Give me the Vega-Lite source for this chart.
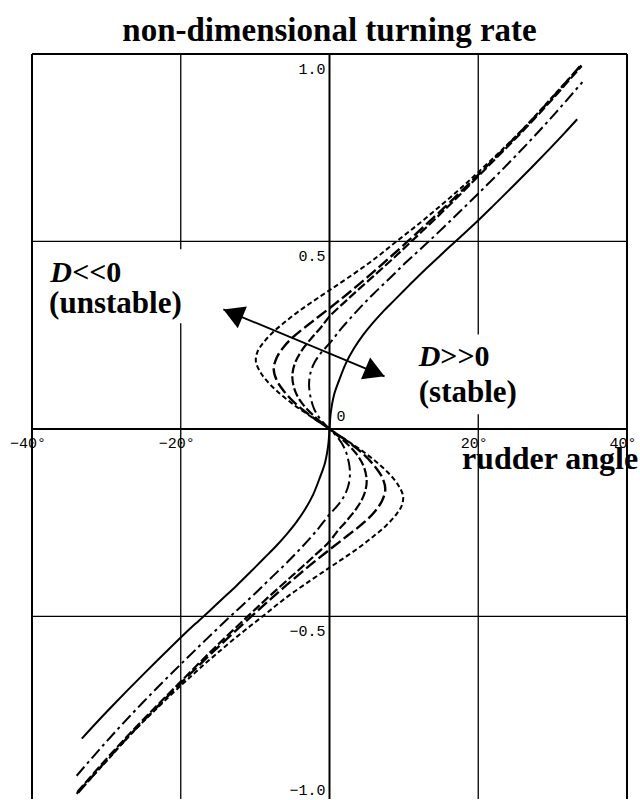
{
  "$schema": "https://vega.github.io/schema/vega-lite/v6.json",
  "width": 595,
  "height": 745,
  "autosize": {"type": "none"},
  "padding": {"left": 32, "top": 54, "right": 13, "bottom": 1},
  "background": "white",
  "config": {"view": {"stroke": null}},
  "datasets": {
    "curves": [
      {"c":"c1","i":-24,"d":-34,"r":-0.973},{"c":"c1","i":-23,"d":-29.8,"r":-0.882},{"c":"c1","i":-22,"d":-26.4,"r":-0.808},{"c":"c1","i":-21,"d":-23.1,"r":-0.743},{"c":"c1","i":-20,"d":-19.9,"r":-0.683},{"c":"c1","i":-19,"d":-17.7,"r":-0.643},{"c":"c1","i":-18,"d":-15.2,"r":-0.6},{"c":"c1","i":-17,"d":-12.2,"r":-0.55},{"c":"c1","i":-16,"d":-9.0,"r":-0.5},{"c":"c1","i":-15,"d":-5.7,"r":-0.448},{"c":"c1","i":-14,"d":-2.4,"r":-0.402},{"c":"c1","i":-13,"d":0,"r":-0.37},{"c":"c1","i":-12,"d":2.1,"r":-0.342},{"c":"c1","i":-11,"d":4.2,"r":-0.313},{"c":"c1","i":-10,"d":6.0,"r":-0.285},{"c":"c1","i":-9,"d":7.6,"r":-0.258},{"c":"c1","i":-8,"d":8.9,"r":-0.23},{"c":"c1","i":-7,"d":9.7,"r":-0.205},{"c":"c1","i":-6,"d":9.9,"r":-0.18},{"c":"c1","i":-5,"d":9.4,"r":-0.155},{"c":"c1","i":-4,"d":8.5,"r":-0.13},{"c":"c1","i":-3,"d":7.0,"r":-0.1},{"c":"c1","i":-2,"d":4.9,"r":-0.066},{"c":"c1","i":-1,"d":2.5,"r":-0.033},
      {"c":"c1","i":0,"d":0,"r":0},
      {"c":"c1","i":1,"d":-2.5,"r":0.033},{"c":"c1","i":2,"d":-4.9,"r":0.066},{"c":"c1","i":3,"d":-7.0,"r":0.1},{"c":"c1","i":4,"d":-8.5,"r":0.13},{"c":"c1","i":5,"d":-9.4,"r":0.155},{"c":"c1","i":6,"d":-9.9,"r":0.18},{"c":"c1","i":7,"d":-9.7,"r":0.205},{"c":"c1","i":8,"d":-8.9,"r":0.23},{"c":"c1","i":9,"d":-7.6,"r":0.258},{"c":"c1","i":10,"d":-6.0,"r":0.285},{"c":"c1","i":11,"d":-4.2,"r":0.313},{"c":"c1","i":12,"d":-2.1,"r":0.342},{"c":"c1","i":13,"d":0,"r":0.37},{"c":"c1","i":14,"d":2.4,"r":0.402},{"c":"c1","i":15,"d":5.7,"r":0.448},{"c":"c1","i":16,"d":9.0,"r":0.5},{"c":"c1","i":17,"d":12.2,"r":0.55},{"c":"c1","i":18,"d":15.2,"r":0.6},{"c":"c1","i":19,"d":17.7,"r":0.643},{"c":"c1","i":20,"d":19.9,"r":0.683},{"c":"c1","i":21,"d":23.1,"r":0.743},{"c":"c1","i":22,"d":26.4,"r":0.808},{"c":"c1","i":23,"d":29.8,"r":0.882},{"c":"c1","i":24,"d":34,"r":0.973},

      {"c":"c2","i":-21,"d":-33.8,"r":-0.97},{"c":"c2","i":-20,"d":-29.8,"r":-0.88},{"c":"c2","i":-19,"d":-26.4,"r":-0.807},{"c":"c2","i":-18,"d":-23.2,"r":-0.742},{"c":"c2","i":-17,"d":-20.2,"r":-0.682},{"c":"c2","i":-16,"d":-17.0,"r":-0.62},{"c":"c2","i":-15,"d":-13.8,"r":-0.56},{"c":"c2","i":-14,"d":-10.5,"r":-0.5},{"c":"c2","i":-13,"d":-7.7,"r":-0.45},{"c":"c2","i":-12,"d":-5.1,"r":-0.405},{"c":"c2","i":-11,"d":-2.4,"r":-0.36},{"c":"c2","i":-10,"d":0,"r":-0.322},{"c":"c2","i":-9,"d":2.4,"r":-0.285},{"c":"c2","i":-8,"d":4.6,"r":-0.25},{"c":"c2","i":-7,"d":6.1,"r":-0.22},{"c":"c2","i":-6,"d":7.1,"r":-0.19},{"c":"c2","i":-5,"d":7.5,"r":-0.16},{"c":"c2","i":-4,"d":7.1,"r":-0.13},{"c":"c2","i":-3,"d":6.1,"r":-0.1},{"c":"c2","i":-2,"d":4.5,"r":-0.066},{"c":"c2","i":-1,"d":2.4,"r":-0.033},
      {"c":"c2","i":0,"d":0,"r":0},
      {"c":"c2","i":1,"d":-2.4,"r":0.033},{"c":"c2","i":2,"d":-4.5,"r":0.066},{"c":"c2","i":3,"d":-6.1,"r":0.1},{"c":"c2","i":4,"d":-7.1,"r":0.13},{"c":"c2","i":5,"d":-7.5,"r":0.16},{"c":"c2","i":6,"d":-7.1,"r":0.19},{"c":"c2","i":7,"d":-6.1,"r":0.22},{"c":"c2","i":8,"d":-4.6,"r":0.25},{"c":"c2","i":9,"d":-2.4,"r":0.285},{"c":"c2","i":10,"d":0,"r":0.322},{"c":"c2","i":11,"d":2.4,"r":0.36},{"c":"c2","i":12,"d":5.1,"r":0.405},{"c":"c2","i":13,"d":7.7,"r":0.45},{"c":"c2","i":14,"d":10.5,"r":0.5},{"c":"c2","i":15,"d":13.8,"r":0.56},{"c":"c2","i":16,"d":17.0,"r":0.62},{"c":"c2","i":17,"d":20.2,"r":0.682},{"c":"c2","i":18,"d":23.2,"r":0.742},{"c":"c2","i":19,"d":26.4,"r":0.807},{"c":"c2","i":20,"d":29.8,"r":0.88},{"c":"c2","i":21,"d":33.8,"r":0.97},

      {"c":"c3","i":-20,"d":-33.9,"r":-0.968},{"c":"c3","i":-19,"d":-29.9,"r":-0.878},{"c":"c3","i":-18,"d":-26.5,"r":-0.805},{"c":"c3","i":-17,"d":-23.3,"r":-0.74},{"c":"c3","i":-16,"d":-20.3,"r":-0.68},{"c":"c3","i":-15,"d":-17.3,"r":-0.62},{"c":"c3","i":-14,"d":-14.2,"r":-0.56},{"c":"c3","i":-13,"d":-11.0,"r":-0.5},{"c":"c3","i":-12,"d":-8.3,"r":-0.45},{"c":"c3","i":-11,"d":-5.2,"r":-0.395},{"c":"c3","i":-10,"d":-2.4,"r":-0.345},{"c":"c3","i":-9,"d":0,"r":-0.3},{"c":"c3","i":-8,"d":1.1,"r":-0.272},{"c":"c3","i":-7,"d":2.3,"r":-0.245},{"c":"c3","i":-6,"d":3.7,"r":-0.21},{"c":"c3","i":-5,"d":4.65,"r":-0.175},{"c":"c3","i":-4,"d":5.0,"r":-0.14},{"c":"c3","i":-3,"d":4.6,"r":-0.1},{"c":"c3","i":-2,"d":3.6,"r":-0.066},{"c":"c3","i":-1,"d":2.0,"r":-0.033},
      {"c":"c3","i":0,"d":0,"r":0},
      {"c":"c3","i":1,"d":-2.0,"r":0.033},{"c":"c3","i":2,"d":-3.6,"r":0.066},{"c":"c3","i":3,"d":-4.6,"r":0.1},{"c":"c3","i":4,"d":-5.0,"r":0.14},{"c":"c3","i":5,"d":-4.65,"r":0.175},{"c":"c3","i":6,"d":-3.7,"r":0.21},{"c":"c3","i":7,"d":-2.3,"r":0.245},{"c":"c3","i":8,"d":-1.1,"r":0.272},{"c":"c3","i":9,"d":0,"r":0.3},{"c":"c3","i":10,"d":2.4,"r":0.345},{"c":"c3","i":11,"d":5.2,"r":0.395},{"c":"c3","i":12,"d":8.3,"r":0.45},{"c":"c3","i":13,"d":11.0,"r":0.5},{"c":"c3","i":14,"d":14.2,"r":0.56},{"c":"c3","i":15,"d":17.3,"r":0.62},{"c":"c3","i":16,"d":20.3,"r":0.68},{"c":"c3","i":17,"d":23.3,"r":0.74},{"c":"c3","i":18,"d":26.5,"r":0.805},{"c":"c3","i":19,"d":29.9,"r":0.878},{"c":"c3","i":20,"d":33.9,"r":0.968},

      {"c":"c4","i":-21,"d":-34.0,"r":-0.925},{"c":"c4","i":-20,"d":-30.4,"r":-0.843},{"c":"c4","i":-19,"d":-26.8,"r":-0.765},{"c":"c4","i":-18,"d":-22.9,"r":-0.685},{"c":"c4","i":-17,"d":-19.4,"r":-0.616},{"c":"c4","i":-16,"d":-16.5,"r":-0.56},{"c":"c4","i":-15,"d":-13.5,"r":-0.503},{"c":"c4","i":-14,"d":-11.7,"r":-0.47},{"c":"c4","i":-13,"d":-9.9,"r":-0.437},{"c":"c4","i":-12,"d":-8.0,"r":-0.4},{"c":"c4","i":-11,"d":-5.9,"r":-0.36},{"c":"c4","i":-10,"d":-3.8,"r":-0.317},{"c":"c4","i":-9,"d":-1.6,"r":-0.268},{"c":"c4","i":-8,"d":0,"r":-0.228},{"c":"c4","i":-7,"d":1.1,"r":-0.204},{"c":"c4","i":-6,"d":2.0,"r":-0.178},{"c":"c4","i":-5,"d":2.55,"r":-0.15},{"c":"c4","i":-4,"d":2.75,"r":-0.12},{"c":"c4","i":-3,"d":2.6,"r":-0.09},{"c":"c4","i":-2,"d":2.1,"r":-0.055},{"c":"c4","i":-1,"d":1.2,"r":-0.025},
      {"c":"c4","i":0,"d":0,"r":0},
      {"c":"c4","i":1,"d":-1.2,"r":0.025},{"c":"c4","i":2,"d":-2.1,"r":0.055},{"c":"c4","i":3,"d":-2.6,"r":0.09},{"c":"c4","i":4,"d":-2.75,"r":0.12},{"c":"c4","i":5,"d":-2.55,"r":0.15},{"c":"c4","i":6,"d":-2.0,"r":0.178},{"c":"c4","i":7,"d":-1.1,"r":0.204},{"c":"c4","i":8,"d":0,"r":0.228},{"c":"c4","i":9,"d":1.6,"r":0.268},{"c":"c4","i":10,"d":3.8,"r":0.317},{"c":"c4","i":11,"d":5.9,"r":0.36},{"c":"c4","i":12,"d":8.0,"r":0.4},{"c":"c4","i":13,"d":9.9,"r":0.437},{"c":"c4","i":14,"d":11.7,"r":0.47},{"c":"c4","i":15,"d":13.5,"r":0.503},{"c":"c4","i":16,"d":16.5,"r":0.56},{"c":"c4","i":17,"d":19.4,"r":0.616},{"c":"c4","i":18,"d":22.9,"r":0.685},{"c":"c4","i":19,"d":26.8,"r":0.765},{"c":"c4","i":20,"d":30.4,"r":0.843},{"c":"c4","i":21,"d":34.0,"r":0.925},

      {"c":"c5","i":-21,"d":-33.3,"r":-0.826},{"c":"c5","i":-20,"d":-31.5,"r":-0.787},{"c":"c5","i":-19,"d":-29.5,"r":-0.745},{"c":"c5","i":-18,"d":-27.3,"r":-0.7},{"c":"c5","i":-17,"d":-24.8,"r":-0.65},{"c":"c5","i":-16,"d":-22.0,"r":-0.595},{"c":"c5","i":-15,"d":-19.3,"r":-0.543},{"c":"c5","i":-14,"d":-17.6,"r":-0.512},{"c":"c5","i":-13,"d":-16.1,"r":-0.485},{"c":"c5","i":-12,"d":-14.5,"r":-0.455},{"c":"c5","i":-11,"d":-12.6,"r":-0.42},{"c":"c5","i":-10,"d":-10.7,"r":-0.383},{"c":"c5","i":-9,"d":-8.8,"r":-0.345},{"c":"c5","i":-8,"d":-7.2,"r":-0.313},{"c":"c5","i":-7,"d":-5.8,"r":-0.282},{"c":"c5","i":-6,"d":-4.5,"r":-0.25},{"c":"c5","i":-5,"d":-3.3,"r":-0.215},{"c":"c5","i":-4,"d":-2.2,"r":-0.175},{"c":"c5","i":-3,"d":-1.3,"r":-0.13},{"c":"c5","i":-2,"d":-0.6,"r":-0.09},{"c":"c5","i":-1,"d":-0.15,"r":-0.04},
      {"c":"c5","i":0,"d":0,"r":0},
      {"c":"c5","i":1,"d":0.15,"r":0.04},{"c":"c5","i":2,"d":0.6,"r":0.09},{"c":"c5","i":3,"d":1.3,"r":0.13},{"c":"c5","i":4,"d":2.2,"r":0.175},{"c":"c5","i":5,"d":3.3,"r":0.215},{"c":"c5","i":6,"d":4.5,"r":0.25},{"c":"c5","i":7,"d":5.8,"r":0.282},{"c":"c5","i":8,"d":7.2,"r":0.313},{"c":"c5","i":9,"d":8.8,"r":0.345},{"c":"c5","i":10,"d":10.7,"r":0.383},{"c":"c5","i":11,"d":12.6,"r":0.42},{"c":"c5","i":12,"d":14.5,"r":0.455},{"c":"c5","i":13,"d":16.1,"r":0.485},{"c":"c5","i":14,"d":17.6,"r":0.512},{"c":"c5","i":15,"d":19.3,"r":0.543},{"c":"c5","i":16,"d":22.0,"r":0.595},{"c":"c5","i":17,"d":24.8,"r":0.65},{"c":"c5","i":18,"d":27.3,"r":0.7},{"c":"c5","i":19,"d":29.5,"r":0.745},{"c":"c5","i":20,"d":31.5,"r":0.787},{"c":"c5","i":21,"d":33.3,"r":0.826}
    ],
    "vgrid": [{"d": -20}, {"d": 20}],
    "hgrid": [{"r": 0.5}, {"r": -0.5}],
    "vframe": [{"d": -40}, {"d": 0}, {"d": 40}],
    "hframe": [{"r": 1.0}, {"r": 0}],
    "labelBoxes": [
      {"d": -38.4, "d2": -16.7, "r": 0.479, "r2": 0.282},
      {"d": 11.2, "d2": 26.2, "r": 0.252, "r2": 0.039}
    ],
    "xlabels": [{"d": -40, "t": "−40°"}, {"d": -20, "t": "−20°"}, {"d": 20, "t": "20°"}, {"d": 40, "t": "40°"}],
    "ylabelsBelow": [{"r": 1.0, "t": "1.0"}, {"r": 0.5, "t": "0.5"}, {"r": -0.5, "t": "−0.5"}],
    "ylabelsAbove": [{"r": -1.0, "t": "−1.0"}],
    "origin": [{"d": 0, "r": 0, "t": "0"}],
    "arrow": [{"d": -14.27, "r": 0.319, "d2": 7.4, "r2": 0.14}],
    "headRight": [{"d": 6.12, "r": 0.151}],
    "headLeft": [{"d": -12.99, "r": 0.308}],
    "titleText": [{"d": 0, "r": 1.036, "t": "non-dimensional turning rate"}],
    "axisName": [{"d": 17.8, "r": -0.106, "t": "rudder angle"}],
    "symD": [{"d": -37.55, "r": 0.393}, {"d": 12.0, "r": 0.167}],
    "signs": [{"d": -34.6, "r": 0.393, "t": "<<0"}, {"d": 14.9, "r": 0.167, "t": ">>0"}],
    "notes": [{"d": -37.7, "r": 0.309, "t": "(unstable)"}, {"d": 12.0, "r": 0.073, "t": "(stable)"}]
  },
  "encoding": {
    "x": {"type": "quantitative", "scale": {"domain": [-40, 40], "nice": false, "zero": false}, "axis": null},
    "y": {"type": "quantitative", "scale": {"domain": [-0.987, 1.0], "nice": false, "zero": false}, "axis": null}
  },
  "layer": [
    {"data": {"name": "vgrid"}, "mark": {"type": "rule", "color": "black", "strokeWidth": 1.3}, "encoding": {"x": {"field": "d", "type": "quantitative"}}},
    {"data": {"name": "hgrid"}, "mark": {"type": "rule", "color": "black", "strokeWidth": 1.3}, "encoding": {"y": {"field": "r", "type": "quantitative"}}},
    {"data": {"name": "vframe"}, "mark": {"type": "rule", "color": "black", "strokeWidth": 2}, "encoding": {"x": {"field": "d", "type": "quantitative"}}},
    {"data": {"name": "hframe"}, "mark": {"type": "rule", "color": "black", "strokeWidth": 2}, "encoding": {"y": {"field": "r", "type": "quantitative"}}},
    {"data": {"name": "labelBoxes"}, "mark": {"type": "rect", "fill": "white", "strokeWidth": 0},
     "encoding": {"x": {"field": "d", "type": "quantitative"}, "x2": {"field": "d2"}, "y": {"field": "r", "type": "quantitative"}, "y2": {"field": "r2"}}},

    {"data": {"name": "curves"}, "transform": [{"filter": {"field": "c", "equal": "c5"}}],
     "mark": {"type": "line", "color": "black", "strokeWidth": 2, "interpolate": "catmull-rom"},
     "encoding": {"x": {"field": "d", "type": "quantitative"}, "y": {"field": "r", "type": "quantitative"}, "order": {"field": "i", "type": "quantitative"}}},
    {"data": {"name": "curves"}, "transform": [{"filter": {"field": "c", "equal": "c4"}}],
     "mark": {"type": "line", "color": "black", "strokeWidth": 2, "strokeDash": [12, 4, 3, 4], "interpolate": "catmull-rom"},
     "encoding": {"x": {"field": "d", "type": "quantitative"}, "y": {"field": "r", "type": "quantitative"}, "order": {"field": "i", "type": "quantitative"}}},
    {"data": {"name": "curves"}, "transform": [{"filter": {"field": "c", "equal": "c3"}}],
     "mark": {"type": "line", "color": "black", "strokeWidth": 2.2, "strokeDash": [9, 3], "interpolate": "catmull-rom"},
     "encoding": {"x": {"field": "d", "type": "quantitative"}, "y": {"field": "r", "type": "quantitative"}, "order": {"field": "i", "type": "quantitative"}}},
    {"data": {"name": "curves"}, "transform": [{"filter": {"field": "c", "equal": "c2"}}],
     "mark": {"type": "line", "color": "black", "strokeWidth": 2.4, "strokeDash": [12, 4], "interpolate": "catmull-rom"},
     "encoding": {"x": {"field": "d", "type": "quantitative"}, "y": {"field": "r", "type": "quantitative"}, "order": {"field": "i", "type": "quantitative"}}},
    {"data": {"name": "curves"}, "transform": [{"filter": {"field": "c", "equal": "c1"}}],
     "mark": {"type": "line", "color": "black", "strokeWidth": 2, "strokeDash": [5, 3], "interpolate": "catmull-rom"},
     "encoding": {"x": {"field": "d", "type": "quantitative"}, "y": {"field": "r", "type": "quantitative"}, "order": {"field": "i", "type": "quantitative"}}},

    {"data": {"name": "arrow"}, "mark": {"type": "rule", "color": "black", "strokeWidth": 1.8},
     "encoding": {"x": {"field": "d", "type": "quantitative"}, "y": {"field": "r", "type": "quantitative"}, "x2": {"field": "d2"}, "y2": {"field": "r2"}}},
    {"data": {"name": "headRight"}, "mark": {"type": "point", "shape": "triangle-right", "angle": 22.6, "size": 560, "filled": true, "color": "black", "opacity": 1, "strokeWidth": 0},
     "encoding": {"x": {"field": "d", "type": "quantitative"}, "y": {"field": "r", "type": "quantitative"}}},
    {"data": {"name": "headLeft"}, "mark": {"type": "point", "shape": "triangle-left", "angle": 22.6, "size": 560, "filled": true, "color": "black", "opacity": 1, "strokeWidth": 0},
     "encoding": {"x": {"field": "d", "type": "quantitative"}, "y": {"field": "r", "type": "quantitative"}}},

    {"data": {"name": "xlabels"}, "mark": {"type": "text", "font": "Liberation Mono", "fontSize": 15, "color": "black", "align": "center", "baseline": "middle", "dx": -4, "dy": 14},
     "encoding": {"x": {"field": "d", "type": "quantitative"}, "y": {"datum": 0}, "text": {"field": "t"}}},
    {"data": {"name": "ylabelsBelow"}, "mark": {"type": "text", "font": "Liberation Mono", "fontSize": 15, "color": "black", "align": "right", "baseline": "middle", "dx": -4, "dy": 15},
     "encoding": {"x": {"datum": 0}, "y": {"field": "r", "type": "quantitative"}, "text": {"field": "t"}}},
    {"data": {"name": "ylabelsAbove"}, "mark": {"type": "text", "font": "Liberation Mono", "fontSize": 15, "color": "black", "align": "right", "baseline": "middle", "dx": -4, "dy": -14},
     "encoding": {"x": {"datum": 0}, "y": {"field": "r", "type": "quantitative"}, "text": {"field": "t"}}},
    {"data": {"name": "origin"}, "mark": {"type": "text", "font": "Liberation Mono", "fontSize": 15, "color": "black", "align": "left", "baseline": "alphabetic", "dx": 7, "dy": -8},
     "encoding": {"x": {"field": "d", "type": "quantitative"}, "y": {"field": "r", "type": "quantitative"}, "text": {"field": "t"}}},

    {"data": {"name": "titleText"}, "mark": {"type": "text", "font": "Liberation Serif", "fontSize": 33, "fontWeight": "bold", "color": "black", "align": "center", "baseline": "alphabetic"},
     "encoding": {"x": {"field": "d", "type": "quantitative"}, "y": {"field": "r", "type": "quantitative"}, "text": {"field": "t"}}},
    {"data": {"name": "axisName"}, "mark": {"type": "text", "font": "Liberation Serif", "fontSize": 32, "fontWeight": "bold", "color": "black", "align": "left", "baseline": "alphabetic"},
     "encoding": {"x": {"field": "d", "type": "quantitative"}, "y": {"field": "r", "type": "quantitative"}, "text": {"field": "t"}}},
    {"data": {"name": "symD"}, "mark": {"type": "text", "font": "Liberation Serif", "fontSize": 30, "fontWeight": "bold", "fontStyle": "italic", "color": "black", "align": "left", "baseline": "alphabetic", "text": "D"},
     "encoding": {"x": {"field": "d", "type": "quantitative"}, "y": {"field": "r", "type": "quantitative"}}},
    {"data": {"name": "signs"}, "mark": {"type": "text", "font": "Liberation Serif", "fontSize": 30, "fontWeight": "bold", "color": "black", "align": "left", "baseline": "alphabetic"},
     "encoding": {"x": {"field": "d", "type": "quantitative"}, "y": {"field": "r", "type": "quantitative"}, "text": {"field": "t"}}},
    {"data": {"name": "notes"}, "mark": {"type": "text", "font": "Liberation Serif", "fontSize": 31, "fontWeight": "bold", "color": "black", "align": "left", "baseline": "alphabetic"},
     "encoding": {"x": {"field": "d", "type": "quantitative"}, "y": {"field": "r", "type": "quantitative"}, "text": {"field": "t"}}}
  ]
}
